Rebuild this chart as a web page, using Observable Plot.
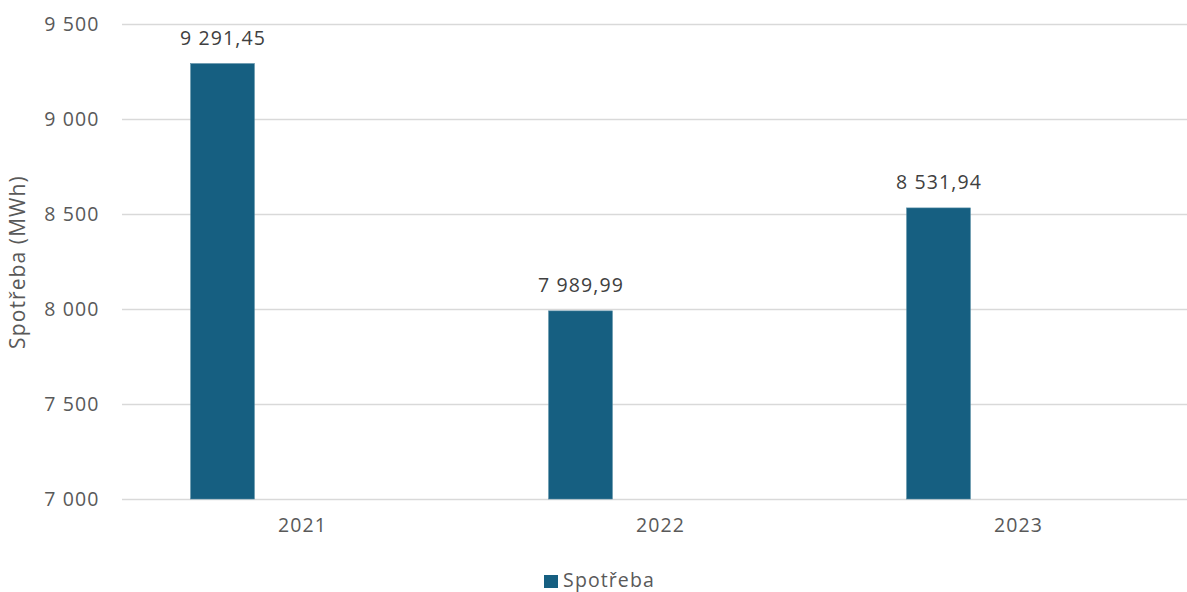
<!DOCTYPE html>
<html>
<head>
<meta charset="utf-8">
<script src="https://cdn.jsdelivr.net/npm/d3@7"></script>
<script src="https://cdn.jsdelivr.net/npm/@observablehq/plot@0.6"></script>
<style>
  html, body { margin: 0; padding: 0; background: #fff; overflow: hidden; }
  #chart { width: 1187px; height: 592px; overflow: hidden; font-family: "Open Sans", sans-serif; }
  #chart svg { max-width: none; }
  .legend { height: 32px; display: flex; justify-content: center; align-items: center; font-size: 19.5px; line-height: 22px; letter-spacing: 1.1px; color: #595959; padding-left: 12px; padding-top: 8px; box-sizing: border-box; }
  .legend .sw { width: 14px; height: 13px; background: #165f81; margin-right: 5px; margin-top: 2px; }
</style>
</head>
<body>
<div id="chart"></div>
<script>
const years = ["2021", "2022", "2023"];
const consumption = [9291.45, 7989.99, 8531.94];
const seriesName = "Spotřeba";
const yTicks = [7000, 7500, 8000, 8500, 9000, 9500];
const yDomain = [7000, 9500];

const data = years.map((y, i) => ({year: y, value: consumption[i]}));
const cz = d3.formatLocale({decimal: ",", thousands: "\u00a0", grouping: [3]});
const fmtInt = cz.format(",.0f");
const fmtDec = cz.format(",.2f");

const barColor = "#165f81";
const bandW = (1197 - 122) / 3;
const barW = 64;
const barOffset = -79.5;
const insetL = bandW / 2 + barOffset - barW / 2;
const insetR = bandW - insetL - barW;

const plot = Plot.plot({
  width: 1187,
  height: 560,
  marginLeft: 122,
  marginRight: 0,
  marginTop: 24,
  marginBottom: 61,
  style: {fontFamily: "Open Sans, sans-serif", fontSize: "19.5px", letterSpacing: "1.1px", color: "#595959", background: "#fff"},
  x: {type: "band", domain: years, range: [122, 1197], padding: 0},
  y: {domain: yDomain},
  marks: [
    Plot.ruleY(yTicks, {stroke: "#d9d9d9", strokeWidth: 1.5}),
    Plot.barY(data, {x: "year", y1: () => yDomain[0], y2: "value", fill: barColor, stroke: "#4f86a0", strokeWidth: 0.6, insetLeft: insetL, insetRight: insetR}),
    Plot.text(data, {x: "year", y: "value", text: d => fmtDec(d.value), dx: barOffset, dy: -19, lineAnchor: "bottom", textAnchor: "middle", fill: "#404040", fontSize: 19.5}),
    Plot.axisY({ticks: yTicks, tickFormat: fmtInt, tickSize: 0, tickPadding: 23, label: null, fill: "#595959"}),
    Plot.axisY({ticks: [], tickSize: 0, label: "Spotřeba (MWh)", labelAnchor: "center", labelArrow: "none", labelOffset: 112, fill: "#595959", fontSize: 21, letterSpacing: "1.5px"}),
    Plot.axisX({tickSize: 0, tickPadding: 19, label: null, fill: "#595959"})
  ]
});
document.getElementById("chart").appendChild(plot);
const legend = document.createElement("div");
legend.className = "legend";
legend.innerHTML = `<span class="sw"></span><span>${seriesName}</span>`;
document.getElementById("chart").appendChild(legend);
</script>
</body>
</html>
